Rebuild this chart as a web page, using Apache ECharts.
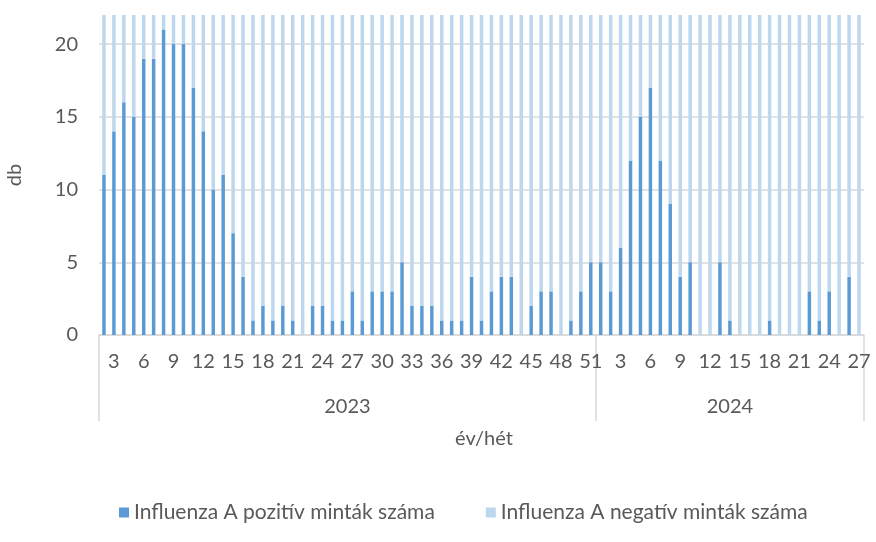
<!DOCTYPE html>
<html style="height: 100%">
    <head>
        <meta charset="utf-8">
    </head>
    <body style="height: 100%; margin: 0; background: #fff">
        <div id="container" style="height: 100%"></div>

        <script type="text/javascript" src="https://cdn.jsdelivr.net/npm/echarts@6/dist/echarts.min.js"></script>
        <script type="text/javascript">
// évek és hetek
var years = ['2023', '2024'];
var weeks2023 = [2,3,4,5,6,7,8,9,10,11,12,13,14,15,16,17,18,19,20,21,22,23,24,25,26,
                 27,28,29,30,31,32,33,34,35,36,37,38,39,40,41,42,43,44,45,46,47,48,49,50,51];
var weeks2024 = [1,2,3,4,5,6,7,8,9,10,11,12,13,14,15,16,17,18,19,20,21,22,23,24,25,26,27];

// Influenza A pozitív minták száma
var pos2023 = [11,14,16,15,19,19,21,20,20,17,14,10,11,7,4,1,2,1,2,1,0,2,2,1,1,
               3,1,3,3,3,5,2,2,2,1,1,1,4,1,3,4,4,0,2,3,3,0,1,3,5];
var pos2024 = [5,3,6,12,15,17,12,9,4,5,0,0,5,1,0,0,0,1,0,0,0,3,1,3,0,4,0];

// Influenza A negatív minták száma (a tengely tetején túlnyúlnak, becsült értékek)
var neg2023 = [64,71,78,80,82,79,75,77,73,70,68,66,62,60,58,55,53,52,50,49,47,48,46,45,44,
               43,45,44,46,45,47,48,46,49,50,52,54,55,57,58,60,62,61,63,64,62,60,58,55,57];
var neg2024 = [66,72,75,78,80,77,74,70,68,65,63,61,60,58,56,55,53,52,50,48,47,46,45,44,43,42,41];

var weeks = weeks2023.concat(weeks2024).map(String);
var posData = pos2023.concat(pos2024);
var negData = neg2023.concat(neg2024);
var n2023 = weeks2023.length;
var nAll = weeks.length;

var dom = document.getElementById('container');
var myChart = echarts.init(dom);

var font = 'Lato';
var txt = '#595959';
var grey = '#D9D9D9';

var option = {
    animation: false,
    textStyle: { fontFamily: font },
    grid: { left: 99, right: 12, top: 15, bottom: 207, outerBoundsMode: 'none' },
    legend: {
        left: 114,
        top: 497,
        icon: 'rect',
        itemWidth: 10,
        itemHeight: 10,
        itemGap: 51,
        textStyle: { fontFamily: font, fontSize: 21, color: txt }
    },
    xAxis: [
        {
            type: 'category',
            data: weeks,
            name: 'év/hét',
            nameLocation: 'middle',
            nameGap: 94,
            nameTextStyle: { fontFamily: font, fontSize: 20, color: txt, padding: [0, 0, 0, 5] },
            axisLine: { lineStyle: { color: grey, width: 1.5 } },
            axisTick: { show: false },
            axisLabel: {
                interval: function (i, v) { return Number(v) % 3 === 0; },
                margin: 17,
                fontFamily: font,
                fontSize: 20,
                color: txt
            }
        },
        {
            type: 'value',
            position: 'bottom',
            min: 0,
            max: nAll,
            axisLine: { show: false },
            splitLine: { show: false },
            axisTick: {
                show: true,
                length: 86,
                customValues: [0, n2023, nAll],
                lineStyle: { color: grey, width: 1.5 }
            },
            axisLabel: {
                customValues: [n2023 / 2, (n2023 + nAll) / 2],
                formatter: function (v) { return v < n2023 ? years[0] : years[1]; },
                margin: 62,
                fontFamily: font,
                fontSize: 20,
                color: txt
            }
        }
    ],
    yAxis: {
        type: 'value',
        min: 0,
        max: 22,
        interval: 5,
        name: 'db',
        nameLocation: 'middle',
        nameRotate: 90,
        nameGap: 74,
        nameTextStyle: { fontFamily: font, fontSize: 20, color: txt },
        axisLine: { show: false },
        axisTick: { show: false },
        axisLabel: { showMaxLabel: false, margin: 21, fontFamily: font, fontSize: 20, color: txt },
        splitLine: { showMaxLine: false, lineStyle: { color: grey, width: 1.5 } }
    },
    series: [
        {
            name: 'Influenza A pozitív minták száma',
            type: 'bar',
            stack: 'minta',
            barWidth: '35%',
            itemStyle: { color: '#5B9BD5' },
            data: posData
        },
        {
            name: 'Influenza A negatív minták száma',
            type: 'bar',
            stack: 'minta',
            barWidth: '35%',
            itemStyle: { color: '#BDD7EE' },
            data: negData
        }
    ]
};

myChart.setOption(option);
        </script>
    </body>
</html>
